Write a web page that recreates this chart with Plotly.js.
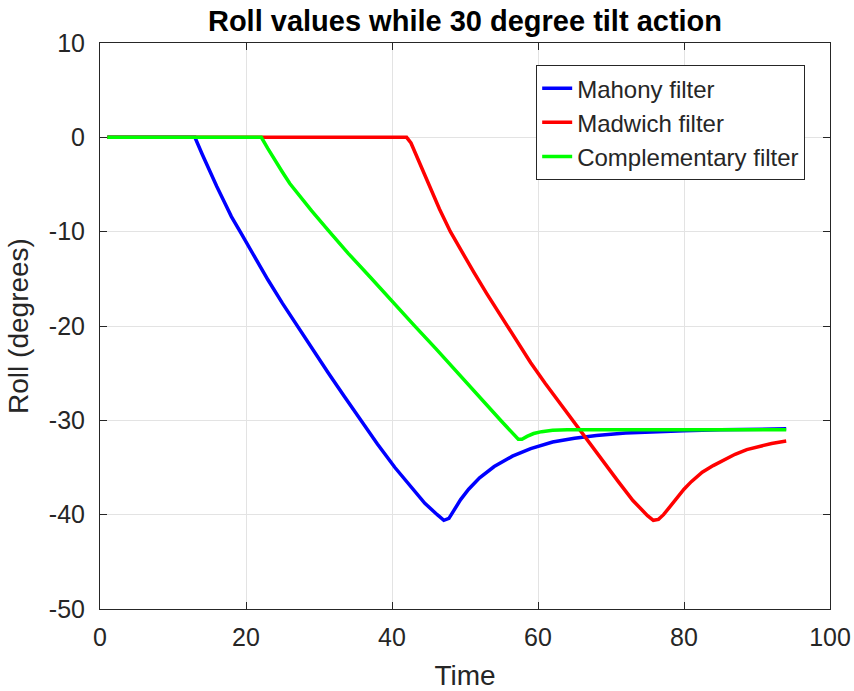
<!DOCTYPE html>
<html>
<head>
<meta charset="utf-8">
<script src="https://cdn.plot.ly/plotly-3.0.1.min.js"></script>
<style>html,body{margin:0;padding:0;background:#fff;}#chart{width:854px;height:691px;}</style>
</head>
<body>
<div id="chart"></div>
<script>
const seriesNames = ["Mahony filter", "Madwich filter", "Complementary filter"];
const seriesColors = ["#0000ff", "#ff0000", "#00ff00"];

const mahonyTime = [1, 13, 14, 15, 16, 17, 18, 19.2, 21, 23, 25, 27, 29, 31.3, 33.5, 35.6, 38, 40.4, 42.5, 44.5, 46.2, 47.1, 47.8, 48.5, 49.4, 50.5, 52, 54, 56.5, 59, 62, 65, 68, 72, 76, 80, 85, 90, 94];
const mahonyRoll = [0, 0, -1.8, -3.6, -5.2, -6.8, -8.4, -10, -12.5, -15.1, -17.6, -20, -22.4, -25, -27.5, -29.9, -32.5, -35, -37.0, -38.8, -40.0, -40.6, -40.4, -39.5, -38.4, -37.3, -36.1, -34.9, -33.8, -33.0, -32.3, -31.9, -31.6, -31.35, -31.2, -31.1, -31.0, -30.95, -30.9];

const madwichTime = [1, 42, 42.6, 43.5, 44.5, 45.5, 46.5, 48, 49.5, 51.2, 53, 55, 57, 59, 61, 63, 65, 67, 69, 71, 73, 75, 75.8, 76.5, 77.2, 78, 79, 80, 81, 82.5, 84, 85.5, 87, 88.6, 90, 92, 94];
const madwichRoll = [0, 0, -0.6, -2.2, -4.0, -5.8, -7.6, -10.0, -12.1, -14.3, -16.6, -19.0, -21.5, -23.9, -26.1, -28.2, -30.2, -32.3, -34.4, -36.5, -38.5, -40.1, -40.6, -40.5, -40.0, -39.2, -38.2, -37.3, -36.5, -35.5, -34.8, -34.2, -33.6, -33.1, -32.8, -32.45, -32.2];

const compTime = [1, 22.1, 23, 24, 25, 26, 27.5, 29, 31.3, 34, 37, 40, 43, 46, 49, 52, 55, 57.3, 57.8, 58.5, 59.4, 60.5, 62, 64, 70, 80, 94];
const compRoll = [0, 0, -1.2, -2.5, -3.7, -4.9, -6.4, -7.8, -9.9, -12.3, -14.8, -17.4, -19.9, -22.4, -25.0, -27.6, -30.1, -32.0, -32.0, -31.7, -31.4, -31.2, -31.05, -31.0, -31.0, -31.0, -31.0];

const xTicks = [0, 20, 40, 60, 80, 100];
const yTicks = [-50, -40, -30, -20, -10, 0, 10];

const FONT = '"Liberation Sans", Arial, Helvetica, sans-serif';
const TXT = '#262626';

const xs = [mahonyTime, madwichTime, compTime];
const ys = [mahonyRoll, madwichRoll, compRoll];
const traces = xs.map((x, i) => ({
  x: x, y: ys[i], type: 'scatter', mode: 'lines', name: seriesNames[i],
  line: {color: seriesColors[i], width: 3.5}
}));

const axisCommon = {
  showline: true, linecolor: TXT, linewidth: 1, mirror: 'ticks',
  ticks: 'inside', ticklen: 7, tickcolor: TXT, tickwidth: 1,
  showgrid: true, gridcolor: '#e3e3e3', gridwidth: 1, zeroline: false,
  tickfont: {family: FONT, size: 25, color: TXT}
};

const layout = {
  width: 854, height: 691,
  margin: {l: 100, r: 24, t: 43, b: 82},
  paper_bgcolor: '#fff', plot_bgcolor: '#fff',
  font: {family: FONT, color: TXT},
  title: {text: 'Roll values while 30 degree tilt action', font: {family: FONT, size: 29, weight: 'bold', color: '#000'},
          x: 0.5, xref: 'paper', y: 1 - 21/691, yref: 'container', yanchor: 'middle'},
  xaxis: Object.assign({}, axisCommon, {range: [0, 100], tickvals: xTicks, ticktext: xTicks.map(String), ticklabelstandoff: 6,
          title: {text: 'Time', font: {family: FONT, size: 28, color: TXT}, standoff: 15}}),
  yaxis: Object.assign({}, axisCommon, {range: [-50, 10], tickvals: yTicks, ticktext: yTicks.map(String), ticklabelstandoff: 9,
          title: {text: 'Roll (degrees)', font: {family: FONT, size: 28, color: TXT}, standoff: 12}}),
  showlegend: true,
  legend: {x: 0.966, xanchor: 'right', y: 0.961, yanchor: 'top', bgcolor: '#fff', bordercolor: TXT, borderwidth: 1,
           font: {family: FONT, size: 24, color: TXT}}
};

Plotly.newPlot('chart', traces, layout, {displayModeBar: false, staticPlot: true});
</script>
</body>
</html>
